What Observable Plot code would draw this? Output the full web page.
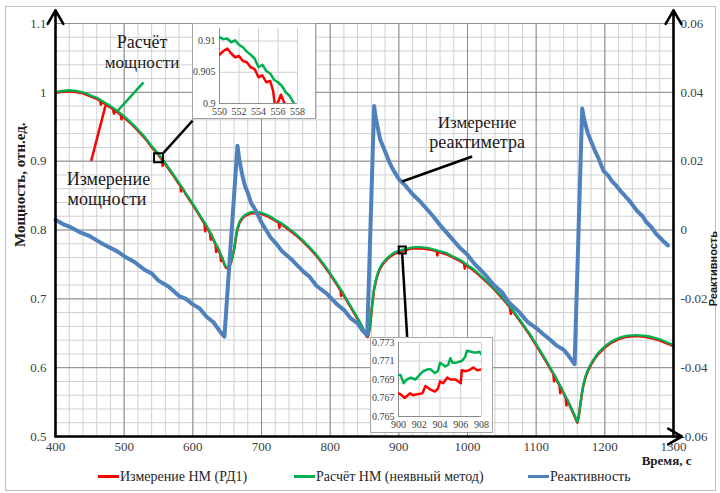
<!DOCTYPE html>
<html><head><meta charset="utf-8">
<script src="https://cdn.jsdelivr.net/npm/d3@7"></script>
<script src="https://cdn.jsdelivr.net/npm/@observablehq/plot@0.6"></script>
<style>
body{margin:0;background:#fff;}
#wrap{position:relative;width:720px;height:493px;overflow:hidden;background:#fff;}
#frame{position:absolute;left:5px;top:6px;width:711px;height:485px;border:1px solid #bfbfbf;box-sizing:border-box;}
#main{position:absolute;left:0;top:0;}
.inset{position:absolute;background:#fff;border:1px solid #a6a6a6;box-sizing:border-box;}
.inset svg{position:absolute;left:0;top:0;}
.leg{position:absolute;top:468px;font-size:14px;color:#262626;white-space:nowrap;line-height:18px;}
.sw{display:inline-block;width:21px;height:3px;vertical-align:middle;margin-right:1px;position:relative;top:-1px;}
</style></head>
<body>
<div id="wrap"><div id="frame"></div></div>
<script>
// ---------- data ----------
const xMajor = [400,500,600,700,800,900,1000,1100,1200,1300];
const yMajor = [0.5,0.6,0.7,0.8,0.9,1,1.1];
const reactLabels = ["-0.06","-0.04","-0.02","0","0.02","0.04","0.06"];

// Расчёт НМ (неявный метод) — time, s / power, rel.u.
const calcT = [400,410,420,430,440,450,460,470,480,490,500,510,520,530,540,550,560,570,580,590,600,610,620,630,640,645,648,650,653,656,660,664,668,672,676,680,685,690,695,700,710,720,730,740,750,760,770,780,790,800,810,820,830,840,845,850,853,855,858,861,864,868,872,876,880,885,890,895,900,910,920,930,940,950,960,970,980,990,1000,1010,1020,1030,1040,1050,1060,1070,1080,1090,1100,1110,1120,1130,1140,1150,1155,1158,1160,1162,1165,1168,1172,1176,1180,1185,1190,1200,1210,1220,1230,1240,1250,1260,1270,1280,1290,1300];
const calcP = [1.000,1.002,1.003,1.002,1.000,0.996,0.992,0.986,0.980,0.973,0.965,0.956,0.946,0.935,0.922,0.9105,0.897,0.883,0.868,0.853,0.838,0.822,0.806,0.787,0.766,0.754,0.747,0.746,0.748,0.755,0.772,0.798,0.812,0.818,0.822,0.824,0.826,0.826,0.826,0.825,0.821,0.815,0.809,0.802,0.794,0.785,0.775,0.764,0.751,0.737,0.722,0.706,0.689,0.672,0.663,0.653,0.647,0.646,0.660,0.690,0.715,0.733,0.744,0.751,0.756,0.761,0.765,0.768,0.7695,0.7725,0.7748,0.775,0.774,0.772,0.769,0.766,0.761,0.756,0.749,0.742,0.733,0.724,0.714,0.703,0.691,0.678,0.664,0.650,0.634,0.618,0.601,0.583,0.564,0.544,0.533,0.526,0.521,0.530,0.552,0.572,0.588,0.598,0.606,0.614,0.621,0.631,0.638,0.643,0.646,0.647,0.647,0.646,0.644,0.641,0.637,0.633];

// Измерение НМ (РД1)
const measT = [400,410,420,430,440,450,460,465,466,467,470,480,484,485,486,490,495,496,497,500,510,520,530,540,550,555,556,557,560,570,580,582,583,584,590,600,610,617,618,619,620,625,626,627,630,633,634,635,640,641,642,645,648,650,653,656,660,664,668,672,676,680,685,690,695,700,710,720,725,726,727,730,740,750,760,770,780,790,800,810,815,816,817,820,830,840,845,850,853,855,858,861,864,868,872,876,880,885,890,895,900,910,920,930,940,950,955,956,957,960,970,980,990,995,996,997,1000,1010,1020,1030,1040,1050,1060,1062,1063,1064,1070,1080,1090,1100,1110,1120,1125,1126,1127,1130,1134,1135,1136,1140,1143,1144,1145,1150,1155,1158,1160,1162,1165,1168,1172,1176,1180,1185,1190,1200,1210,1220,1230,1240,1250,1260,1270,1280,1290,1300];
const measP = [0.999,1.001,1.0015,1.0005,0.9985,0.9945,0.9905,0.988,0.982,0.9875,0.9845,0.978,0.9755,0.969,0.975,0.9715,0.967,0.961,0.966,0.9635,0.9545,0.9445,0.9335,0.9205,0.909,0.902,0.893,0.9005,0.8955,0.8815,0.8665,0.864,0.856,0.8625,0.8515,0.8365,0.8205,0.809,0.798,0.807,0.8045,0.7955,0.786,0.794,0.7855,0.779,0.768,0.777,0.7645,0.755,0.762,0.7525,0.7455,0.7445,0.7465,0.7535,0.7705,0.7965,0.8105,0.8165,0.8205,0.8225,0.8245,0.8245,0.8245,0.8235,0.8195,0.8135,0.8105,0.803,0.810,0.8075,0.8005,0.7925,0.7835,0.7735,0.7625,0.7495,0.7355,0.7205,0.7125,0.704,0.711,0.7045,0.6875,0.6705,0.6615,0.6515,0.6455,0.6445,0.6585,0.6885,0.7135,0.7315,0.7425,0.7495,0.7545,0.7595,0.7632,0.7662,0.7674,0.771,0.7733,0.7735,0.7725,0.7705,0.769,0.763,0.768,0.7675,0.7645,0.7595,0.7545,0.751,0.744,0.750,0.7475,0.7405,0.7315,0.7225,0.7125,0.7015,0.6895,0.687,0.678,0.685,0.6765,0.6625,0.6485,0.6325,0.6165,0.5995,0.591,0.580,0.589,0.5815,0.574,0.563,0.572,0.5625,0.556,0.545,0.554,0.5425,0.5315,0.5245,0.520,0.5285,0.5505,0.5705,0.5865,0.5965,0.6045,0.6125,0.6195,0.6295,0.6365,0.6415,0.6445,0.6455,0.6455,0.6445,0.6425,0.6395,0.6355,0.6315];

// Реактивность (right axis)
const reactT = [400,410,420,435,450,465,480,490,500,515,530,540,550,565,580,590,600,610,620,630,640,646,665,668,672,676,680,685,690,700,713,722,730,745,761,770,780,795,810,820,830,840,847,854,864,866,870,873,880,886,892,900,910,920,930,942,950,960,975,990,1000,1010,1025,1038,1050,1060,1075,1087,1100,1110,1120,1130,1140,1146,1156,1167,1170,1175,1179,1185,1190,1198,1205,1210,1217,1223,1235,1247,1255,1260,1268,1275,1285,1292];
const reactR = [0.0030,0.0018,0.0010,-0.0006,-0.0018,-0.0036,-0.0052,-0.0062,-0.0076,-0.0093,-0.0116,-0.0126,-0.0147,-0.0165,-0.0192,-0.0200,-0.0216,-0.0228,-0.0252,-0.0268,-0.0296,-0.0310,0.0245,0.0200,0.0160,0.0128,0.0108,0.0078,0.0062,0.0022,-0.0021,-0.0041,-0.0062,-0.0088,-0.0121,-0.0136,-0.0162,-0.0185,-0.0216,-0.0232,-0.0257,-0.0271,-0.0292,-0.0305,0.0360,0.0330,0.0290,0.0262,0.0228,0.0198,0.0174,0.0148,0.0128,0.0104,0.0085,0.0058,0.0040,0.0014,-0.0020,-0.0054,-0.0072,-0.0098,-0.0128,-0.0159,-0.0180,-0.0210,-0.0238,-0.0266,-0.0285,-0.0302,-0.0318,-0.0336,-0.0348,-0.0362,-0.0390,0.0353,0.0320,0.0283,0.0262,0.0233,0.0212,0.0172,0.0158,0.0143,0.0128,0.0113,0.0087,0.0055,0.0040,0.0024,0.0008,-0.0012,-0.0032,-0.0045];

// inset 1 (550–558 s)
const in1CalcT = [550,550.4,550.8,551.2,551.6,552,552.4,552.8,553.2,553.6,554,554.4,554.8,555.2,555.6,556,556.4,556.8,557.2,557.6];
const in1CalcP = [0.9106,0.9103,0.9104,0.9098,0.9101,0.9094,0.9090,0.9083,0.9078,0.9072,0.9058,0.9062,0.9052,0.9048,0.9038,0.9034,0.9028,0.9018,0.9012,0.9001];
const in1MeasT = [550,550.4,550.8,551.2,551.6,552,552.4,552.8,553.2,553.6,554,554.4,554.8,555.2,555.5,555.7,556,556.3,556.6,557];
const in1MeasP = [0.9078,0.9084,0.9088,0.9080,0.9074,0.9076,0.9068,0.9066,0.9058,0.9055,0.9042,0.9045,0.9034,0.9036,0.9020,0.8995,0.9002,0.9014,0.9003,0.8990];

// inset 2 (900–908 s)
const in2CalcT = [900,900.2,900.5,900.8,901.2,901.6,901.8,902.1,902.4,902.8,903.1,903.5,903.8,904,904.3,904.5,904.8,905,905.2,905.5,905.8,906.1,906.4,906.6,907,907.4,907.8,908];
const in2CalcP = [0.7695,0.7695,0.7686,0.7690,0.7692,0.7690,0.7692,0.7696,0.7699,0.7701,0.7701,0.7697,0.7699,0.7708,0.7706,0.7704,0.7706,0.7713,0.7708,0.7708,0.7709,0.7710,0.7714,0.7721,0.7720,0.7719,0.7720,0.7717];
const in2MeasT = [900,900.2,900.6,901.1,901.4,901.8,902.3,902.6,903.1,903.5,903.8,904,904.3,904.7,905,905.5,906,906.1,906.5,906.8,907.2,907.6,908];
const in2MeasP = [0.7675,0.7674,0.7670,0.7675,0.7673,0.7674,0.7675,0.7683,0.7679,0.7677,0.7680,0.7688,0.7686,0.7692,0.7690,0.7690,0.7686,0.7700,0.7699,0.7700,0.7703,0.7700,0.7701];

// annotation positions (data coords)
const zoomMarks = [{t:550,p:0.905,r:5},{t:905,p:0.771,r:4}];
const leaders = [
  {x1:557.3,y1:0.9121,x2:599.5,y2:0.9587,c:"#000"},
  {x1:904.9,y1:0.765,x2:912.2,y2:0.6432,c:"#000"},
  {x1:528.1,y1:1.0145,x2:489.8,y2:0.9723,c:"#00B050"},
  {x1:472.8,y1:0.9806,x2:452,y2:0.9005,c:"#FF0000"},
  {x1:1006.8,y1:0.9068,x2:904.9,y2:0.8704,c:"#000"}
];
const notes = [
  {t:526,p:1.0728,s:"Расчёт",f:18},
  {t:526,p:1.0436,s:"мощности",f:17},
  {t:477,p:0.8738,s:"Измерение",f:18},
  {t:475,p:0.8447,s:"мощности",f:18},
  {t:1014,p:0.9563,s:"Измерение",f:17},
  {t:1014,p:0.9272,s:"реактиметра",f:18}
];
const axisLines = [
  {x1:400,y1:0.5,x2:400,y2:1.119},
  {x1:400,y1:0.5,x2:1312,y2:0.5},
  {x1:1300,y1:0.5,x2:1300,y2:1.119}
];

// ---------- build ----------
const RED = "#FF0000", GREEN = "#00B050", BLUE = "#4F81BD";
const SERIF = "Liberation Serif";
const calc = calcT.map((t,i)=>({t, p:calcP[i]}));
const meas = measT.map((t,i)=>({t, p:measP[i]}));
const react = reactT.map((t,i)=>({t, p:0.8 + reactR[i]*5}));
const xMinor = d3.range(400, 1301, 20);
const yMinor = d3.range(0, 31).map(i => 0.5 + i*0.02);

const main = Plot.plot({
  width: 720, height: 460,
  marginLeft: 55, marginRight: 47, marginTop: 23, marginBottom: 24,
  style: {fontFamily: SERIF, background: "transparent", overflow: "visible"},
  x: {domain: [400, 1300]},
  y: {domain: [0.5, 1.1]},
  r: {type: "identity"},
  marks: [
    Plot.ruleX(xMinor, {stroke: "#d0d0d0", strokeWidth: 1}),
    Plot.ruleY(yMinor, {stroke: "#d0d0d0", strokeWidth: 1}),
    Plot.ruleX(xMajor, {stroke: "#8c8c8c", strokeWidth: 1}),
    Plot.ruleY(yMajor, {stroke: "#8c8c8c", strokeWidth: 1}),
    Plot.line(meas, {x: "t", y: "p", stroke: RED, strokeWidth: 2.5}),
    Plot.line(calc, {x: "t", y: "p", stroke: GREEN, strokeWidth: 2.3, curve: "catmull-rom"}),
    Plot.line(react, {x: "t", y: "p", stroke: BLUE, strokeWidth: 4}),
    Plot.axisX({ticks: xMajor, tickSize: 0, tickPadding: 5, fontSize: 13, fill: "#404040", label: null, tickFormat: d => String(d)}),
    Plot.axisY({ticks: yMajor, tickSize: 0, tickPadding: 9, fontSize: 13, fill: "#404040", label: null, tickFormat: d => String(d)}),
    Plot.axisY({anchor: "right", ticks: yMajor, tickSize: 0, tickPadding: 7, fontSize: 13, fill: "#404040", label: null,
      tickFormat: d => reactLabels[yMajor.indexOf(d)]}),
    Plot.arrow(axisLines, {x1: "x1", y1: "y1", x2: "x2", y2: "y2", stroke: "#000", strokeWidth: 2.6, headLength: 9}),
    Plot.link(leaders, {x1: "x1", y1: "y1", x2: "x2", y2: "y2", stroke: "c", strokeWidth: 2.5}),
    Plot.dot(zoomMarks, {x: "t", y: "p", r: "r", symbol: "square", stroke: "#000", strokeWidth: 2, fill: "none"}),
    Plot.text(notes, {x: "t", y: "p", text: "s", fontSize: d => d.f, fill: "#1a1a1a"}),
    Plot.text(["Мощность, отн.ед."], {frameAnchor: "left", rotate: -90, dx: -35, dy: 17, fontWeight: "bold", fontSize: 15, fill: "#1a1a1a"}),
    Plot.text(["Реактивность"], {frameAnchor: "right", rotate: -90, dx: 40, dy: 1, fontWeight: "bold", fontSize: 11, fill: "#1a1a1a"}),
    Plot.text(["Время, с"], {frameAnchor: "bottom-right", textAnchor: "end", dx: 18, dy: 28, fontWeight: "bold", fontSize: 13, fill: "#1a1a1a"})
  ]
});
main.id = "main";
const wrap = document.getElementById("wrap");
wrap.appendChild(main);

function inset(box, mar, xd, xt, yd, yt, yfmt, cData, mData) {
  const div = document.createElement("div");
  div.className = "inset";
  Object.assign(div.style, {left: box[0]+"px", top: box[1]+"px", width: box[2]+"px", height: box[3]+"px"});
  const p = Plot.plot({
    width: box[2]-2, height: box[3]-2,
    marginLeft: mar[0], marginRight: mar[1], marginTop: mar[2], marginBottom: mar[3],
    style: {fontFamily: SERIF, background: "transparent", overflow: "visible"},
    x: {domain: xd}, y: {domain: yd},
    marks: [
      Plot.ruleX(xt, {stroke: "#d0d0d0"}),
      Plot.ruleY(yt, {stroke: "#d0d0d0"}),
      Plot.ruleX([xd[0]], {stroke: "#8c8c8c"}),
      Plot.ruleY([yd[0]], {stroke: "#8c8c8c"}),
      Plot.line(mData, {x: "t", y: "p", stroke: RED, strokeWidth: 2.5, clip: true}),
      Plot.line(cData, {x: "t", y: "p", stroke: GREEN, strokeWidth: 2.5, clip: true}),
      Plot.axisX({ticks: xt, tickSize: 0, tickPadding: 4, fontSize: 10, fill: "#404040", label: null, tickFormat: d => String(d)}),
      Plot.axisY({ticks: yt, tickSize: 0, tickPadding: 4, fontSize: 10, fill: "#404040", label: null, tickFormat: yfmt})
    ]
  });
  div.appendChild(p);
  wrap.appendChild(div);
}
inset([192,23,124,96],[26,18,4,15],[550,558],[550,552,554,556,558],[0.9,0.912],[0.9,0.905,0.91], d => String(+d.toFixed(3)),
  in1CalcT.map((t,i)=>({t,p:in1CalcP[i]})), in1MeasT.map((t,i)=>({t,p:in1MeasP[i]})));
inset([370,337,123,96],[27,11,4,16],[900,908],[900,902,904,906,908],[0.765,0.773],[0.765,0.767,0.769,0.771,0.773], d => d.toFixed(3),
  in2CalcT.map((t,i)=>({t,p:in2CalcP[i]})), in2MeasT.map((t,i)=>({t,p:in2MeasP[i]})));

// legend
const legend = [
  {s:"Измерение НМ (РД1)", c:RED, x:98},
  {s:"Расчёт НМ (неявный метод)", c:GREEN, x:294},
  {s:"Реактивность", c:BLUE, x:528}
];
legend.forEach(l => {
  const d = document.createElement("div");
  d.className = "leg";
  d.style.left = l.x + "px";
  d.style.fontFamily = SERIF;
  d.innerHTML = `<span class="sw" style="background:${l.c}"></span>${l.s}`;
  wrap.appendChild(d);
});

// font faces: serif everywhere, sans for the right-axis title
wrap.querySelectorAll("svg").forEach(s => { s.setAttribute("font-family", SERIF); s.style.fontFamily = SERIF; });
wrap.querySelectorAll("text").forEach(t => {
  const f = t.textContent === "Реактивность" ? "Liberation Sans" : SERIF;
  t.setAttribute("font-family", f);
  t.style.fontFamily = f;
});
</script>
</body></html>
